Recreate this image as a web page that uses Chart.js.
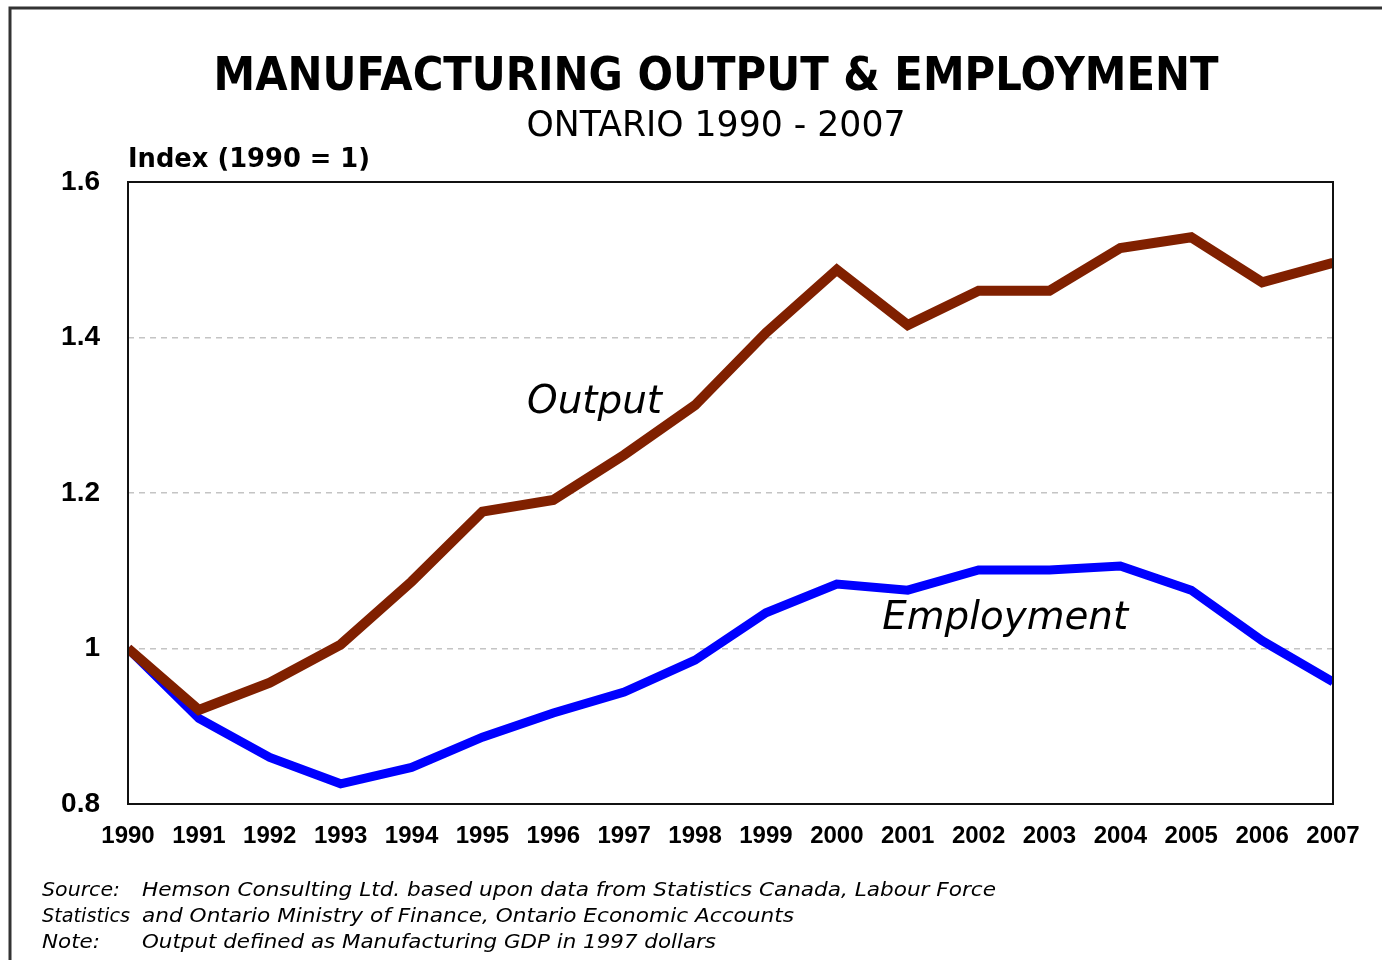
<!DOCTYPE html>
<html>
<head>
<meta charset="utf-8">
<script src="https://cdn.jsdelivr.net/npm/chart.js@4.4.1/dist/chart.umd.min.js"></script>
<style>
  html, body { margin: 0; padding: 0; background: #fff; }
  #wrap { width: 1382px; height: 960px; position: relative; }
</style>
</head>
<body>
<div id="wrap"><canvas id="mfgChart" width="1382" height="960"></canvas></div>
<script>
const years = ['1990', '1991', '1992', '1993', '1994', '1995', '1996', '1997', '1998',
    '1999', '2000', '2001', '2002', '2003', '2004', '2005', '2006', '2007'];
const outputIndex = [1.000, 0.921, 0.956, 1.005, 1.086, 1.176, 1.191, 1.249, 1.313,
    1.406, 1.487, 1.416, 1.460, 1.460, 1.515, 1.529, 1.471, 1.496];
const employmentIndex = [1.000, 0.910, 0.860, 0.826, 0.847, 0.886, 0.917, 0.944, 0.985,
    1.046, 1.083, 1.075, 1.101, 1.101, 1.106, 1.075, 1.010, 0.957];
const yTicks = [0.8, 1.0, 1.2, 1.4, 1.6];

const titleText = 'MANUFACTURING OUTPUT & EMPLOYMENT';
const subtitleText = 'ONTARIO 1990 - 2007';
const axisLabel = 'Index (1990 = 1)';
// line labels, placed in data units (category index, index value)
const seriesLabels = [
    { text: 'Output', x: 5.63, y: 1.303, width: 135 },
    { text: 'Employment', x: 10.64, y: 1.025, width: 246 }
];
const notes = [
    ['Source:', 78, 'Hemson Consulting Ltd. based upon data from Statistics Canada, Labour Force', 854],
    ['Statistics', 88, 'and Ontario Ministry of Finance, Ontario Economic Accounts', 652],
    ['Note:', 58, 'Output defined as Manufacturing GDP in 1997 dollars', 574]
];

// draw text squeezed or stretched to an exact width
function fitText(ctx, text, x, y, width, align) {
    const w = ctx.measureText(text).width;
    const k = width / w;
    ctx.save();
    ctx.textAlign = 'left';
    const left = align === 'center' ? x - width / 2 : x;
    ctx.translate(left, y);
    ctx.scale(k, 1);
    ctx.fillText(text, 0, 0);
    ctx.restore();
}

const decorations = {
    id: 'decorations',
    afterDatasetsDraw(chart) {
        const { ctx, chartArea: a } = chart;
        ctx.save();
        ctx.strokeStyle = '#111';
        ctx.lineWidth = 2;
        ctx.strokeRect(a.left, a.top, a.right - a.left, a.bottom - a.top);
        ctx.restore();
    },
    afterDraw(chart) {
        const { ctx } = chart;
        const xs = chart.scales.x, ys = chart.scales.y;
        ctx.save();

        // page frame
        ctx.strokeStyle = '#333';
        ctx.lineWidth = 3;
        ctx.beginPath();
        ctx.moveTo(10, 960);
        ctx.lineTo(10, 8);
        ctx.lineTo(1382, 8);
        ctx.stroke();

        ctx.fillStyle = '#000';
        ctx.textBaseline = 'alphabetic';
        ctx.font = 'bold 46px "DejaVu Sans"';
        fitText(ctx, titleText, 716, 90, 1005, 'center');
        ctx.font = '35px "DejaVu Sans"';
        fitText(ctx, subtitleText, 716, 136, 379, 'center');

        ctx.font = 'bold 26px "DejaVu Sans"';
        fitText(ctx, axisLabel, 128, 167, 242);

        ctx.font = 'italic 39px "DejaVu Sans"';
        seriesLabels.forEach(l => {
            fitText(ctx, l.text, xs.getPixelForValue(l.x), ys.getPixelForValue(l.y), l.width);
        });

        ctx.font = 'italic 19px "DejaVu Sans"';
        notes.forEach((n, i) => {
            const y = 896 + i * 26;
            fitText(ctx, n[0], 42, y, n[1]);
            fitText(ctx, n[2], 142, y, n[3]);
        });
        ctx.restore();
    }
};

const ctx = document.getElementById('mfgChart').getContext('2d');
new Chart(ctx, {
    type: 'line',
    data: {
        labels: years,
        datasets: [
            {
                label: 'Output',
                data: outputIndex,
                borderColor: '#802000',
                borderWidth: 10,
                pointRadius: 0,
                tension: 0,
                clip: 0
            },
            {
                label: 'Employment',
                data: employmentIndex,
                borderColor: '#0000ff',
                borderWidth: 9,
                pointRadius: 0,
                tension: 0,
                clip: 0
            }
        ]
    },
    options: {
        responsive: false,
        animation: false,
        events: [],
        layout: {
            padding: { left: 0, right: 49, top: 182, bottom: 106 }
        },
        plugins: {
            legend: { display: false },
            title: { display: false },
            tooltip: { enabled: false }
        },
        scales: {
            x: {
                type: 'category',
                offset: false,
                grid: { display: false, drawTicks: false },
                border: { display: false },
                ticks: {
                    color: '#000',
                    font: { family: '"Liberation Sans"', weight: 'bold', size: 24 },
                    padding: 18,
                    maxRotation: 0,
                    autoSkip: false
                },
                afterFit(scale) { scale.height = 50; }
            },
            y: {
                min: 0.8,
                max: 1.6,
                afterBuildTicks(scale) {
                    scale.ticks = yTicks.map(v => ({ value: v }));
                },
                grid: {
                    drawTicks: false,
                    lineWidth: 1.5,
                    color: c => (c.tick && (c.tick.value <= 0.8 || c.tick.value >= 1.6)) ? 'rgba(0,0,0,0)' : '#c4c4c4'
                },
                border: { display: false, dash: [6, 5] },
                ticks: {
                    color: '#000',
                    font: { family: '"Liberation Sans"', weight: 'bold', size: 28 },
                    padding: 28,
                    callback: v => String(Number(v.toFixed(1)))
                },
                afterFit(scale) { scale.width = 128; }
            }
        }
    },
    plugins: [decorations]
});
</script>
</body>
</html>
